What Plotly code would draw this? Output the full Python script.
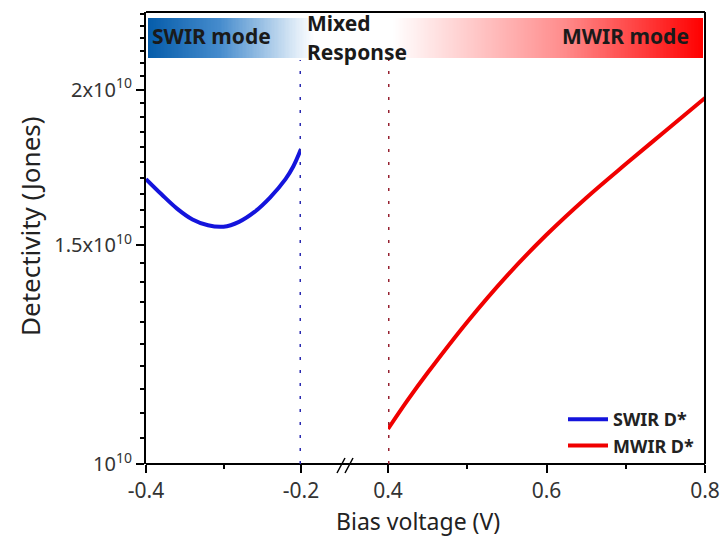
import plotly.graph_objects as go
import numpy as np

# ---- data ----
swir_v = [-0.40, -0.38, -0.36, -0.34, -0.32, -0.30, -0.28, -0.26, -0.24, -0.22, -0.21, -0.20]
swir_d = [1.695, 1.648, 1.605, 1.573, 1.556, 1.552, 1.566, 1.595, 1.638, 1.695, 1.735, 1.792]
mwir_v = [0.400, 0.425, 0.450, 0.500, 0.550, 0.600, 0.650, 0.700, 0.750, 0.800]
mwir_d = [1.067, 1.126, 1.184, 1.301, 1.417, 1.529, 1.637, 1.743, 1.853, 1.970]
scale = 1e10
y_tickvals = [1.0e10, 1.5e10, 2.0e10]
y_ticktext = ["10<sup>10</sup>", "1.5x10<sup>10</sup>", "2x10<sup>10</sup>"]
x1_ticks = [-0.4, -0.2]
x1_minor = [-0.3]
x2_ticks = [0.4, 0.6, 0.8]
x2_minor = [0.5, 0.7]

FONT = "Noto Sans"
W, H = 721, 538
L, R, T, B = 146, 16, 12, 74
pw, ph = W - L - R, H - T - B

def px(x):
    return (x - L) / pw

def py(y):
    return (H - B - y) / ph

d1 = px(301)
d2 = px(388)

fig = go.Figure()

# header gradient band
N = 400
zx = np.linspace(0, 1, N)
fig.add_trace(go.Heatmap(
    x=zx, y=[0.5], z=[zx], zmin=0, zmax=1, showscale=False, hoverinfo="skip",
    colorscale=[[0.0, "rgb(5,92,170)"], [0.13, "rgb(70,140,205)"], [0.27, "rgb(225,237,248)"],
                [0.30, "rgb(255,255,255)"], [0.44, "rgb(255,255,255)"], [0.75, "rgb(255,140,140)"],
                [1.0, "rgb(255,0,0)"]],
    xaxis="x3", yaxis="y3", showlegend=False))

fig.add_trace(go.Scatter(
    x=swir_v, y=[v * scale for v in swir_d], mode="lines", name="SWIR D*",
    line=dict(color="#1414dc", width=4, shape="spline"), xaxis="x", yaxis="y"))
fig.add_trace(go.Scatter(
    x=mwir_v, y=[v * scale for v in mwir_d], mode="lines", name="MWIR D*",
    line=dict(color="#f00000", width=4, shape="spline"), xaxis="x2", yaxis="y"))

tickfont = dict(family=FONT, size=21, color="#333333")
common_x = dict(showgrid=False, zeroline=False, showline=False, ticks="outside", ticklen=8,
                tickwidth=2, tickcolor="black", tickfont=tickfont, anchor="y", automargin=False)

minor_y = [round(1.0 + 0.05 * i, 2) * 1e10 for i in range(1, 27)]

fig.update_layout(
    width=W, height=H, margin=dict(l=L, r=R, t=T, b=B, autoexpand=False),
    paper_bgcolor="white", plot_bgcolor="white",
    xaxis=dict(domain=[0, d1], range=[-0.4, -0.2], tickvals=x1_ticks,
               ticktext=["-0.4", "-0.2"],
               minor=dict(tickvals=x1_minor, ticks="outside", ticklen=4, tickwidth=2, tickcolor="black"),
               **common_x),
    xaxis2=dict(domain=[d2, 1], range=[0.4, 0.8], tickvals=x2_ticks,
                ticktext=["0.4", "0.6", "0.8"],
                minor=dict(tickvals=x2_minor, ticks="outside", ticklen=4, tickwidth=2, tickcolor="black"),
                **common_x),
    yaxis=dict(type="log", range=[10, 10.3636], domain=[0, 1], anchor="x", automargin=False,
               showline=True, linewidth=2, linecolor="black", showgrid=False, zeroline=False,
               ticks="outside", ticklen=8, tickwidth=2, tickcolor="black",
               tickvals=y_tickvals, ticktext=y_ticktext, tickfont=dict(family=FONT, size=20, color="#333333"),
               minor=dict(tickvals=minor_y, ticks="outside", ticklen=4, tickwidth=1.5, tickcolor="black")),
    xaxis3=dict(domain=[px(148), px(703)], range=[0, 1], anchor="y3", visible=False),
    yaxis3=dict(domain=[py(58), py(18)], range=[0, 1], anchor="x3", visible=False),
    legend=dict(x=px(700), xanchor="right", y=py(464), yanchor="bottom",
                bgcolor="rgba(0,0,0,0)", font=dict(family=FONT, size=18, color="#222222", weight="bold"),
                tracegroupgap=0, itemwidth=40),
    showlegend=True,
)

shapes = []
# frame: bottom (continuous), top, right
shapes.append(dict(type="line", xref="paper", yref="paper", x0=0, x1=1, y0=0, y1=0,
                   line=dict(color="black", width=2)))
shapes.append(dict(type="line", xref="paper", yref="paper", x0=0, x1=1, y0=1, y1=1,
                   line=dict(color="black", width=2)))
shapes.append(dict(type="line", xref="paper", yref="paper", x0=1, x1=1, y0=0, y1=1,
                   line=dict(color="black", width=2)))
# axis break marks
for off in (0, 8):
    shapes.append(dict(type="line", xref="paper", yref="paper",
                       x0=px(337 + off), x1=px(345 + off), y0=py(473), y1=py(458),
                       line=dict(color="black", width=1.5)))
# dotted mode boundaries
shapes.append(dict(type="line", xref="x", yref="paper", x0=-0.2, x1=-0.2, y0=0, y1=py(60),
                   line=dict(color="#2a2ab0", width=3, dash="3px,10px")))
shapes.append(dict(type="line", xref="x2", yref="paper", x0=0.4, x1=0.4, y0=0, y1=py(60),
                   line=dict(color="#962030", width=3, dash="3px,10px")))
fig.update_layout(shapes=shapes)

hdr = dict(family=FONT, size=21, color="#1a1a1a", weight="bold")
def a(text, x, y, xanchor="center", **kw):
    return dict(text=text, x=x, y=y, xref="paper", yref="paper", xanchor=xanchor,
                yanchor="middle", showarrow=False, **kw)

ann = [
    a("SWIR mode", px(211), py(36), font=hdr),
    a("Mixed", px(305), py(23), xanchor="left", font=hdr),
    a("Response", px(305), py(52), xanchor="left", font=hdr),
    a("MWIR mode", px(625), py(36), font=hdr),
    a("Bias voltage (V)", px(418), py(521), font=dict(family=FONT, size=23, color="#222222")),
    a("Detectivity (Jones)", px(30), py(226), textangle=-90,
      font=dict(family=FONT, size=26, color="#222222")),
]
fig.update_layout(annotations=ann)

fig.write_html("out.html")
